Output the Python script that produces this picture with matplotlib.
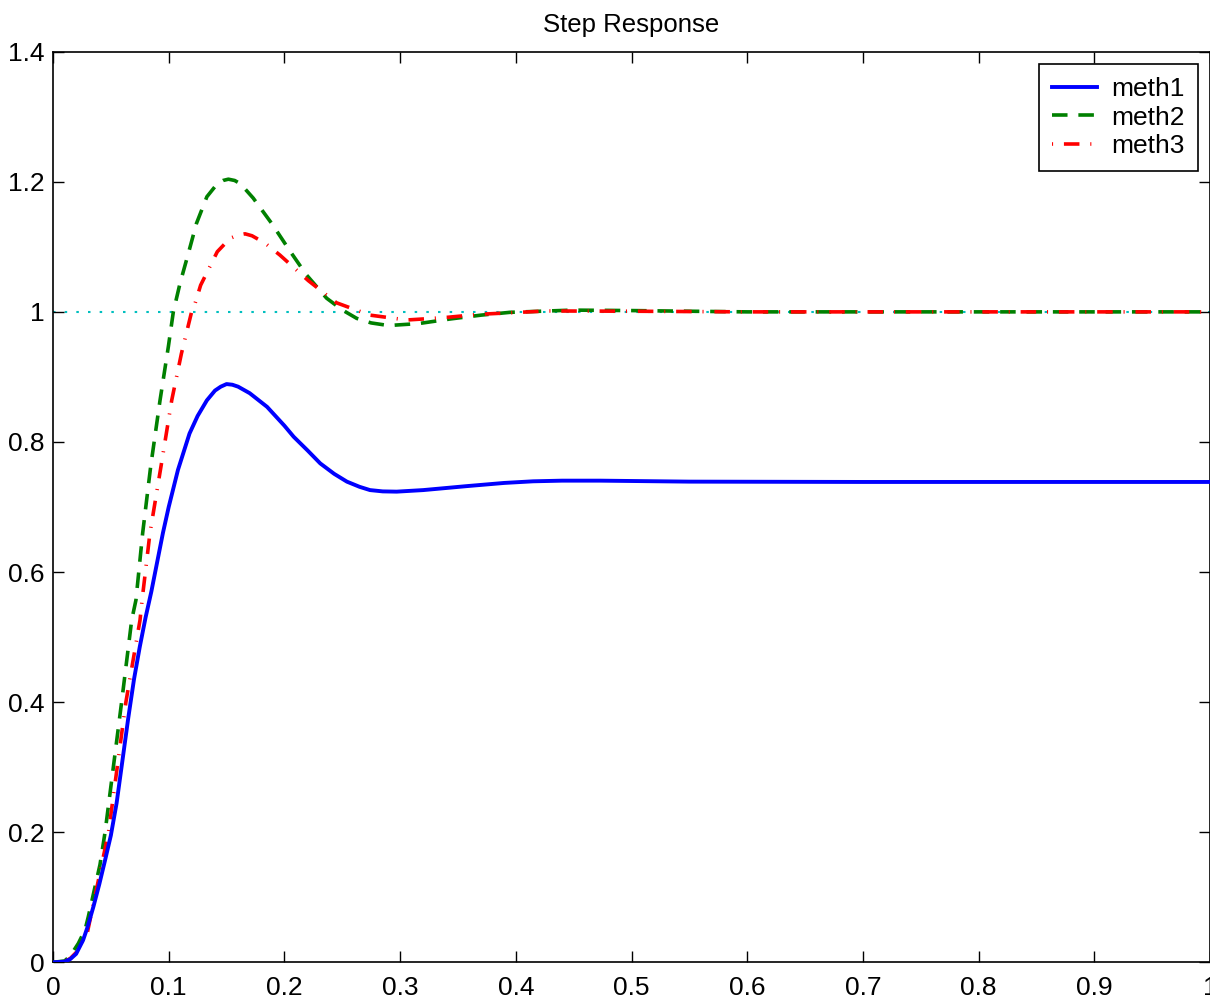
import matplotlib
matplotlib.use("Agg")
import matplotlib.pyplot as plt

t1 = [0, 0.01, 0.015, 0.02, 0.026, 0.03, 0.035, 0.04, 0.045, 0.05, 0.055, 0.06, 0.065, 0.07, 0.075,
      0.08, 0.085, 0.09, 0.095, 0.1, 0.108, 0.118, 0.125, 0.133, 0.14, 0.145, 0.15, 0.155, 0.16, 0.17,
      0.185, 0.2, 0.208, 0.22, 0.231, 0.243, 0.254, 0.265, 0.274, 0.285, 0.297, 0.32,
      0.357, 0.39, 0.415, 0.44, 0.473, 0.55, 0.7, 1.0]
meth1 = [0, 0.001, 0.005, 0.013, 0.034, 0.055, 0.086, 0.12, 0.157, 0.195, 0.245, 0.31, 0.375, 0.435, 0.485,
         0.53, 0.57, 0.615, 0.66, 0.70, 0.757, 0.813, 0.84, 0.864, 0.879, 0.885, 0.889, 0.888, 0.885, 0.875,
         0.854, 0.825, 0.808, 0.787, 0.767, 0.751, 0.739, 0.731, 0.726, 0.724, 0.7236, 0.726,
         0.732, 0.737, 0.7395, 0.7405, 0.7405, 0.739, 0.7385, 0.7385]

t2 = [0, 0.01, 0.015, 0.0219, 0.0277, 0.0305, 0.0406, 0.045, 0.0593, 0.068, 0.0717, 0.0775, 0.0844,
      0.0925, 0.0997, 0.104, 0.1098, 0.117, 0.124, 0.133, 0.142, 0.147, 0.1516, 0.157, 0.162, 0.173, 0.189,
      0.205, 0.219, 0.2365, 0.25, 0.2625, 0.275, 0.29, 0.316, 0.343, 0.37, 0.395, 0.449, 0.5,
      0.6, 1.0]
meth2 = [0, 0.002, 0.01, 0.029, 0.05, 0.07, 0.15, 0.2, 0.4, 0.526, 0.557, 0.66, 0.762,
         0.864, 0.9465, 1.0, 1.044, 1.09, 1.136, 1.177, 1.197, 1.202, 1.204, 1.202, 1.197, 1.175, 1.136,
         1.093, 1.057, 1.021, 1.003, 0.99, 0.983, 0.979, 0.982, 0.989, 0.995, 0.9993, 1.0027, 1.002,
         1.0, 1.0]

t3 = [0, 0.01, 0.015, 0.02, 0.0296, 0.048, 0.063, 0.0752, 0.077, 0.0838, 0.0933, 0.1026, 0.111,
      0.1198, 0.1228, 0.1276, 0.142, 0.153, 0.16, 0.166, 0.172, 0.183, 0.196, 0.2207, 0.245, 0.274,
      0.3057, 0.337, 0.369, 0.4267, 0.5, 0.6, 1.0]
meth3 = [0, 0.001, 0.006, 0.015, 0.045, 0.2, 0.4, 0.526, 0.557, 0.66, 0.762, 0.864, 0.936,
         1.0, 1.013, 1.041, 1.0925, 1.113, 1.118, 1.12, 1.117, 1.106, 1.0875, 1.048, 1.014, 0.995,
         0.9875, 0.991, 0.9963, 1.0014, 1.001, 1.0, 1.0]

ref_t = [0, 1]
ref_v = [1, 1]

xticks = [0, 0.1, 0.2, 0.3, 0.4, 0.5, 0.6, 0.7, 0.8, 0.9, 1]
xticklabels = ['0', '0.1', '0.2', '0.3', '0.4', '0.5', '0.6', '0.7', '0.8', '0.9', '1']
yticks = [0, 0.2, 0.4, 0.6, 0.8, 1.0, 1.2, 1.4]
yticklabels = ['0', '0.2', '0.4', '0.6', '0.8', '1', '1.2', '1.4']

plt.rcParams['font.family'] = ['Liberation Sans', 'DejaVu Sans']
plt.rcParams['font.size'] = 19

fig = plt.figure(figsize=(12.1, 9.98), dpi=100)
ax = fig.add_axes([53 / 1210, (998 - 962.3) / 998, 1157 / 1210, 910.6 / 998])

ax.plot(ref_t, ref_v, color='#00bfbf', lw=1.5, linestyle=(0, (1.2, 4.4)), zorder=1)
l1, = ax.plot(t1, meth1, color='#0000ff', lw=2.8, label='meth1', zorder=3)
l2, = ax.plot(t2, meth2, color='#008000', lw=2.6, linestyle=(0, (4.3, 3.0)), label='meth2', zorder=2)
l3, = ax.plot(t3, meth3, color='#ff0000', lw=2.6, linestyle=(0, (0.3, 3.0, 4.3, 3.0)), label='meth3', zorder=2)

ax.set_xlim(0, 1)
ax.set_ylim(0, 1.4)
ax.set_xticks(xticks)
ax.set_xticklabels(xticklabels)
ax.set_yticks(yticks)
ax.set_yticklabels(yticklabels)
ax.tick_params(direction='in', length=8, width=1, top=True, right=True)
ax.tick_params(axis='x', pad=10)
ax.tick_params(axis='y', pad=6)
for s in ax.spines.values():
    s.set_linewidth(1.2)

ax.set_title('Step Response', fontsize=18.5, pad=14)

leg = ax.legend(handles=[l1, l2, l3], loc='upper right', fancybox=False, framealpha=1,
                edgecolor='black', borderaxespad=0.45, handlelength=1.7, handletextpad=0.55,
                labelspacing=0.18, borderpad=0.5)
leg.get_frame().set_linewidth(1.2)

fig.savefig('out.png', dpi=100)
